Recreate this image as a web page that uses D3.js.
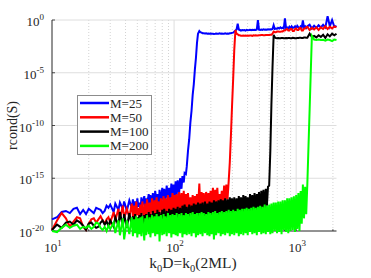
<!DOCTYPE html>
<html><head><meta charset="utf-8">
<script src="https://cdn.jsdelivr.net/npm/d3@7"></script>
<style>
html,body{margin:0;padding:0;background:#fff;}
svg text{font-family:"Liberation Serif","Times New Roman",serif;fill:#262626;}
</style></head>
<body><svg id="c" width="371" height="278"></svg>
<script>
// shared sample positions k0D
const kD = [10,11,12,13,14,15,16,17,18,19,20,21,22,23,24,25,26,27,28,29,30,32,33,35,36,38,39,41,43,
45,46,47,48,49,50,51,52,53,54,
55,57,58,59,60,62,63,64,66,67,
69,70,72,73,75,76,78,80,82,83,
85,87,89,91,93,95,97,99,101,103,
105,107,110,112,115,117,120,122,125,127,
130,133,136,139,142,145,148,151,154,157,
161,164,168,171,175,179,183,187,191,195,
199,203,208,212,217,221,226,231,236,241,
246,251,257,262,268,274,280,286,292,298,
305,311,318,325,332,339,346,353,361,369,
377,385,393,401,410,419,428,437,447,456,
466,476,486,496,507,518,529,540,552,564,
576,588,601,614,627,640,654,668,682,697,
712,727,743,759,775,792,809,826,844,862,
880,899,918,938,958,979,1000,1021,1043,1065,
1088,1111,1135,1159,1184,1209,1235,
1289,1345,1403,1464,1527,1593,1662,1734,1809,1887,1969,2054,2140];

// log10(rcond(S)) per series, one value per kD
const m25 = [-18.9,-18.7,-18.2,-18.1,-18.3,-17.9,-17.8,-18.4,-18.0,-18.4,-17.9,-18.1,-18.3,-17.8,-17.9,-18.0,-18.3,-18.1,-17.6,-17.8,-17.5,-18.2,-17.4,-18.0,-17.3,-17.9,-17.2,-18.1,-17.1,
-17.8,-17.0,-17.9,-17.2,-18.0,-16.9,-17.7,-17.3,-18.1,-16.8,
-17.6,-16.7,-18.0,-16.9,-17.5,-16.5,-17.8,-16.6,-17.4,-16.4,
-17.6,-16.2,-17.3,-16.5,-17.7,-16.1,-17.2,-15.9,-17.4,-16.0,
-17.1,-15.7,-16.9,-15.9,-17.2,-15.5,-16.8,-15.6,-16.6,-15.3,
-16.7,-15.2,-16.4,-15.0,-16.0,-14.8,-15.4,-14.5,-14.6,-13.9,
-12.4,-11.3,-9.7,-8.6,-7.1,-6.1,-4.7,-3.6,-2.2,-1.3,
-1.05,-1.15,-1.2,-1.25,-1.25,-1.27,-1.25,-1.3,-1.28,-1.3,
-1.28,-1.3,-1.3,-1.32,-1.3,-1.28,-1.3,-1.3,-1.27,-1.3,
-1.28,-1.3,-1.3,-1.27,-1.3,-1.28,-1.3,-1.26,-1.25,-1.22,
-1.2,-1.1,-1.0,-0.9,-0.35,-0.9,-0.95,-1.0,-0.95,-0.97,
-0.95,-1.0,-0.93,-0.97,-0.95,-0.92,-0.97,-0.93,-0.95,-0.92,
-0.95,-0.9,0.0,-0.92,-0.95,-0.9,-0.93,-0.88,-0.92,-0.9,
-0.92,-0.88,-0.9,-0.87,-0.9,-0.85,-0.5,-0.85,-0.8,-0.82,
-0.75,-0.8,-0.7,-0.78,-0.72,-0.8,0.15,-0.75,-0.7,-0.8,
-0.65,-0.8,-0.6,-0.75,-0.7,-0.6,-0.75,-0.55,-0.7,-0.8,
-0.6,-0.7,-0.05,-0.7,-0.6,-0.75,-0.6,
-0.45,-0.8,-0.55,-0.75,-0.5,-0.7,-0.45,-0.7,0.35,-0.6,0.0,-0.65,-0.55];

const m50 = [-19.9,-19.0,-18.3,-18.8,-19.6,-19.1,-18.7,-18.8,-19.6,-19.9,-19.3,-18.9,-18.8,-19.2,-18.9,-18.6,-19.0,-19.3,-18.9,-18.7,-19.2,-18.2,-19.0,-17.9,-18.9,-17.6,-18.8,-17.9,-18.7,
-17.4,-18.7,-17.6,-18.9,-17.2,-18.5,-17.8,-18.8,-17.5,-18.6,
-17.2,-18.8,-17.4,-18.5,-17.0,-18.6,-17.3,-18.4,-16.9,-18.5,
-17.1,-18.3,-16.8,-18.6,-17.2,-18.4,-16.9,-18.3,-16.7,-18.5,
-16.9,-18.2,-16.6,-18.4,-16.8,-18.1,-16.4,-18.3,-16.6,-18.0,
-16.5,-18.1,-16.3,-17.9,-16.4,-18.0,-16.2,-17.8,-16.5,-17.9,
-16.4,-18.0,-16.8,-17.8,-16.6,-18.0,-16.7,-17.7,-16.5,-17.9,
-15.5,-17.8,-16.3,-17.6,-16.4,-17.7,-16.3,-17.5,-16.4,-17.6,
-16.2,-17.5,-15.9,-17.7,-16.1,-17.4,-15.9,-17.6,-16.5,-17.4,
-16.2,-17.5,-15.7,-17.3,-15.6,-17.0,-15.3,-13.5,-11.0,-8.3,
-5.5,-2.9,-0.95,-1.3,-1.35,-1.45,-1.45,-1.5,-1.5,-1.48,
-1.5,-1.48,-1.5,-1.47,-1.5,-1.48,-1.47,-1.5,-1.45,-1.47,
-1.45,-1.47,-1.47,-1.45,-1.45,-1.43,-1.43,-1.45,-1.45,-1.42,
-1.42,-1.43,-1.43,-1.4,-1.4,-1.3,-1.1,-1.15,-1.15,-1.1,
-1.1,-1.12,-1.12,-1.08,-1.08,-1.0,-1.0,-0.9,-0.85,-1.0,
-1.0,-0.85,-0.85,-1.05,-1.05,-0.85,-0.8,-0.95,-0.95,-0.75,
-0.75,-1.0,-1.0,-0.8,-0.8,-0.7,-0.65,
-0.95,-0.75,-0.9,-0.7,-0.95,-0.7,-0.85,-0.6,-0.85,-0.65,-0.8,-0.6,-0.7];

const m100 = [-19.9,-19.4,-19.7,-19.2,-19.1,-19.4,-19.0,-19.2,-19.5,-19.9,-19.3,-19.2,-19.5,-19.7,-19.6,-19.2,-19.0,-19.4,-19.1,-19.5,-19.0,-19.6,-18.7,-19.5,-18.2,-19.6,-18.4,-19.7,-18.3,
-19.5,-18.6,-19.8,-18.4,-19.6,-18.7,-19.9,-18.5,-19.6,-18.3,
-20.1,-18.5,-19.7,-18.4,-19.5,-18.2,-19.8,-18.4,-19.6,-18.1,
-19.7,-18.3,-19.5,-18.0,-19.8,-18.2,-19.4,-18.0,-19.6,-17.9,
-19.4,-18.1,-19.7,-17.9,-19.3,-18.0,-19.5,-17.8,-19.6,-17.9,
-19.3,-17.7,-19.4,-17.8,-19.2,-17.6,-19.3,-17.5,-19.1,-17.7,
-19.2,-17.5,-19.1,-17.6,-19.0,-17.4,-18.9,-17.5,-19.0,-17.3,
-18.9,-17.4,-18.8,-17.3,-18.9,-17.2,-18.7,-17.4,-18.8,-17.2,
-18.7,-17.3,-18.6,-17.1,-18.8,-17.2,-18.5,-17.1,-18.6,-17.0,
-18.4,-17.1,-18.5,-16.9,-18.3,-17.0,-18.4,-16.8,-18.3,-16.9,
-18.4,-16.8,-18.2,-16.9,-18.3,-16.7,-18.4,-16.8,-18.2,-16.6,
-18.3,-16.7,-18.1,-16.8,-18.2,-16.5,-18.3,-16.6,-18.1,-16.4,
-18.2,-16.5,-18.0,-16.3,-18.2,-16.2,-17.9,-16.1,-18.0,-16.0,
-17.6,-15.8,-15.7,-12.5,-8.0,-4.5,-1.4,-1.65,-1.7,-1.72,
-1.7,-1.72,-1.72,-1.7,-1.7,-1.73,-1.72,-1.7,-1.73,-1.7,
-1.7,-1.72,-1.72,-1.68,-1.7,-1.72,-1.72,-1.7,-1.7,-1.68,
-1.68,-1.7,-1.7,-1.66,-1.66,-1.68,-1.68,
-1.3,-1.6,-1.5,-1.65,-1.45,-1.6,-1.4,-1.7,-1.35,-1.55,-1.3,-1.45,-1.3];

const m200 = [-20.0,-20.1,-19.7,-19.4,-19.7,-19.5,-19.4,-19.8,-19.6,-19.7,-19.5,-19.8,-19.6,-19.2,-19.3,-19.7,-19.9,-19.6,-20.0,-19.5,-19.8,-19.2,-20.2,-19.0,-20.4,-18.8,-20.8,-19.0,-20.3,
-18.7,-20.5,-18.9,-20.2,-18.6,-20.6,-18.8,-20.3,-18.7,-20.5,
-18.6,-20.9,-18.8,-20.4,-18.5,-20.3,-18.7,-20.6,-18.5,-20.2,
-18.6,-20.5,-18.4,-20.3,-18.6,-21.0,-18.5,-20.4,-18.4,-20.3,
-18.6,-20.5,-18.3,-20.2,-18.5,-20.6,-18.4,-20.3,-18.5,-20.4,
-18.3,-20.5,-18.4,-20.2,-18.3,-20.6,-18.5,-20.3,-18.3,-20.4,
-18.4,-20.3,-18.3,-20.5,-18.2,-20.2,-18.4,-20.6,-18.3,-20.4,
-18.3,-20.3,-18.2,-20.5,-18.3,-20.2,-18.4,-20.4,-18.2,-20.5,
-18.3,-20.3,-18.2,-20.8,-18.1,-20.4,-18.3,-20.2,-18.2,-20.5,
-18.1,-20.3,-18.2,-20.4,-18.1,-20.2,-18.0,-20.5,-18.1,-20.3,
-18.0,-20.4,-18.1,-20.2,-17.9,-20.5,-18.0,-20.3,-17.9,-20.4,
-17.9,-20.2,-17.8,-20.4,-17.9,-20.1,-17.8,-20.3,-17.7,-20.2,
-17.8,-20.4,-17.7,-20.1,-17.6,-20.3,-17.7,-20.2,-17.5,-20.3,
-17.6,-20.1,-17.5,-20.3,-17.4,-20.2,-17.3,-20.0,-17.3,-20.2,
-17.2,-20.1,-17.2,-20.3,-17.1,-19.9,-17.1,-20.1,-16.9,-20.2,
-16.9,-20.0,-16.8,-19.9,-16.7,-20.1,-16.6,-19.8,-16.4,-20.0,
-16.2,-19.3,-15.6,-18.8,-15.8,-18.4,-15.5,
-8.5,-1.5,-1.85,-1.9,-1.85,-1.9,-1.87,-1.95,-1.85,-1.9,-2.0,-1.85,-1.9];

const seriesNames = ["M=25","M=50","M=100","M=200"];
const seriesColors = ["#0000ff","#ff0000","#000000","#00ff00"];
const seriesLogs = [m25, m50, m100, m200];

const xTicks = [10,100,1000];
const xTickExp = ["1","2","3"];
const yTicks = [1,1e-5,1e-10,1e-15,1e-20];
const yTickExp = ["0","-5","-10","-15","-20"];

const svg = d3.select("#c");
const L = 52, R = 336.5, T = 20, B = 231;
const x = d3.scaleLog().domain([10, 2140]).range([L, R]);
const y = d3.scaleLog().domain([1e-20, 1]).range([B, T]);

// grid
const minorX = [];
[10,100,1000].forEach(d => { for (let k = 2; k <= 9; k++) { const v = d*k; if (v <= 2140) minorX.push(v); } });
const g = svg.append("g");
g.selectAll(".mx").data(minorX).enter().append("line")
  .attr("x1", d => x(d)).attr("x2", d => x(d)).attr("y1", T).attr("y2", B)
  .attr("stroke", "#c8c8c8").attr("stroke-width", 0.8).attr("stroke-dasharray", "1,2");
g.selectAll(".Mx").data([100,1000]).enter().append("line")
  .attr("x1", d => x(d)).attr("x2", d => x(d)).attr("y1", T).attr("y2", B)
  .attr("stroke", "#dedede").attr("stroke-width", 1);
g.selectAll(".My").data(yTicks.slice(0,4)).enter().append("line")
  .attr("x1", L).attr("x2", R).attr("y1", d => y(d)).attr("y2", d => y(d))
  .attr("stroke", "#dedede").attr("stroke-width", 1);

// axes lines
svg.append("line").attr("x1", L).attr("x2", L).attr("y1", T).attr("y2", B).attr("stroke", "#262626").attr("stroke-width", 1);
svg.append("line").attr("x1", L).attr("x2", R).attr("y1", B).attr("y2", B).attr("stroke", "#262626").attr("stroke-width", 1);
svg.selectAll(".tx").data(xTicks.concat(minorX)).enter().append("line")
  .attr("x1", d => x(d)).attr("x2", d => x(d)).attr("y1", B).attr("y2", d => xTicks.includes(d) ? B-3 : B-1.8)
  .attr("stroke", "#262626").attr("stroke-width", 0.8);
svg.selectAll(".ty").data(yTicks).enter().append("line")
  .attr("x1", L).attr("x2", L+3).attr("y1", d => y(d)).attr("y2", d => y(d))
  .attr("stroke", "#262626").attr("stroke-width", 0.8);

// tick labels
const xl = svg.selectAll(".xl").data(xTicks).enter().append("text")
  .attr("x", d => x(d)+1).attr("y", 252).attr("text-anchor", "middle").attr("font-size", 13);
xl.append("tspan").text("10");
xl.append("tspan").attr("font-size", 9).attr("dy", -6).text((d,i) => xTickExp[i]);

const yl = svg.selectAll(".yl").data(yTicks).enter().append("text")
  .attr("x", 44).attr("y", d => y(d)+6).attr("text-anchor", "end").attr("font-size", 13);
yl.append("tspan").text("10");
yl.append("tspan").attr("font-size", 9).attr("dy", -6).text((d,i) => yTickExp[i]);

// lines
const line = d3.line().x((d,i) => x(kD[i])).y(d => y(Math.pow(10, d)));
seriesLogs.forEach((s, k) => {
  svg.append("path").datum(s).attr("d", line).attr("fill", "none")
    .attr("stroke", seriesColors[k]).attr("stroke-width", 2);
});

// axis labels
const xlab = svg.append("text").attr("x", 193).attr("y", 268).attr("text-anchor", "middle").attr("font-size", 15.5);
xlab.append("tspan").text("k");
xlab.append("tspan").attr("font-size", 10.5).attr("dy", 4).text("0");
xlab.append("tspan").attr("dy", -4).text("D=k");
xlab.append("tspan").attr("font-size", 10.5).attr("dy", 4).text("0");
xlab.append("tspan").attr("dy", -4).text("(2ML)");

svg.append("text").attr("transform", "translate(17,125.5) rotate(-90)")
  .attr("text-anchor", "middle").attr("font-size", 14).text("rcond(S)");

// legend
const lg = svg.append("g");
lg.append("rect").attr("x", 77.5).attr("y", 95.5).attr("width", 74).attr("height", 59)
  .attr("fill", "#fff").attr("stroke", "#8c8c8c").attr("stroke-width", 1);
seriesNames.forEach((n, k) => {
  const yy = 103 + k*14.3;
  lg.append("line").attr("x1", 80).attr("x2", 109).attr("y1", yy).attr("y2", yy)
    .attr("stroke", seriesColors[k]).attr("stroke-width", 2.5);
  lg.append("text").attr("x", 110).attr("y", yy+4.5).attr("font-size", 13).text(n);
});
</script></body></html>
